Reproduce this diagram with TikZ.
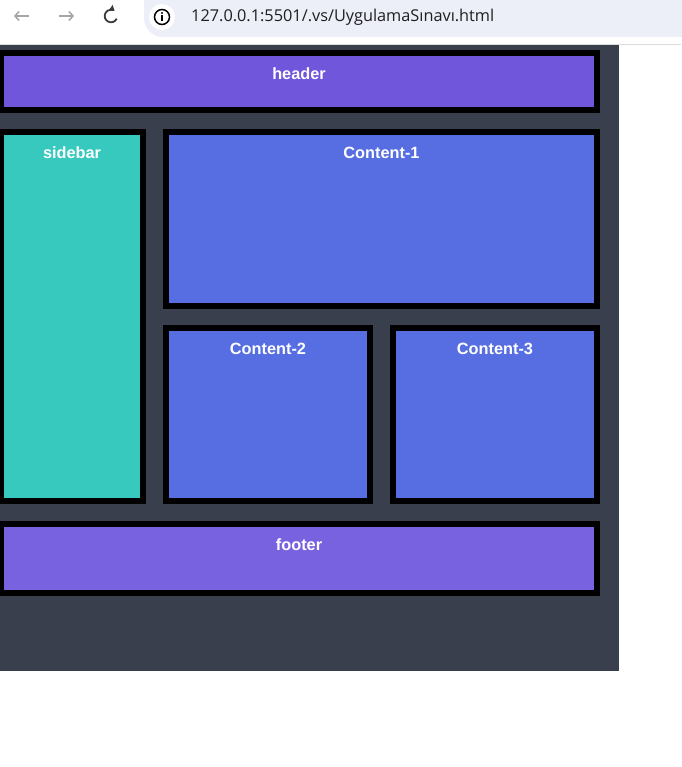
\documentclass[tikz,border=0pt]{standalone}
\usepackage{fontspec}
\setmainfont{Liberation Sans}
\newfontfamily\urlfont{Open Sans}
\usetikzlibrary{arrows.meta}
\definecolor{hdrc}{HTML}{7056DB}
\definecolor{sidec}{HTML}{37C9BE}
\definecolor{contc}{HTML}{566EE1}
\definecolor{footc}{HTML}{7962DF}
\definecolor{bgc}{HTML}{393F4C}
\definecolor{pillc}{HTML}{ECEFF7}
\definecolor{sepc}{HTML}{DADCE0}
\definecolor{navgray}{HTML}{A6A6A6}
\definecolor{navdark}{HTML}{3C3C3C}
\definecolor{urlc}{HTML}{1F1F1F}
\tikzset{
  panel/.style={draw=black, line width=6pt},
  lbl/.style={text=white, font=\bfseries\fontsize{16.3}{19}\selectfont, anchor=base, inner sep=0pt},
  navarrow/.style={line width=1.5pt, -{Straight Barb[length=4pt,width=9pt]}},
}
\begin{document}
\begin{tikzpicture}[x=1pt,y=-1pt]
\useasboundingbox (0,0) rectangle (681,767);
\fill[white] (0,0) rectangle (681,767);
% browser bar
\fill[pillc, rounded corners=19pt] (144,-20) rectangle (720,37);
\fill[white] (162,17) circle (13);
\draw[sepc, line width=1pt] (0,44.5) -- (681,44.5);
% info icon
\draw[black, line width=1.5pt] (162,17) circle (7.5);
\fill[black] (162,13) circle (1.1);
\draw[black, line width=1.6pt] (162,15.5) -- (162,21.5);
% nav icons
\coordinate (backR) at (29,16); \coordinate (backL) at (14,16);
\draw[navarrow, navgray] (backR) -- (backL);
\coordinate (fwdL) at (59,16); \coordinate (fwdR) at (74,16);
\draw[navarrow, navgray] (fwdL) -- (fwdR);
\coordinate (rel) at (111,16);
\draw[navdark, line width=1.8pt, -{Triangle[length=5pt,width=7pt]}] (rel) ++(25:6.3) arc[start angle=25, end angle=305, radius=6.3];
\node[font=\urlfont\fontsize{16.3}{19}\selectfont, text=urlc, anchor=base west, inner sep=0pt] (url) at (191,22) {127.0.0.1:5501/.vs/UygulamaSınavı.html};
% page
\fill[bgc] (0,45) rectangle (619,671);
\draw[panel, fill=hdrc] (1,53) rectangle (597,110);
\node[lbl] (header) at (299,79.5) {header};
\draw[panel, fill=sidec] (1,132) rectangle (143,501);
\node[lbl] (sidebar) at (72,158.5) {sidebar};
\draw[panel, fill=contc] (166,132) rectangle (597,306);
\node[lbl] (c1) at (381.5,158.5) {Content-1};
\draw[panel, fill=contc] (166,328) rectangle (370,501);
\node[lbl] (c2) at (268,354.5) {Content-2};
\draw[panel, fill=contc] (393,328) rectangle (597,501);
\node[lbl] (c3) at (495,354.5) {Content-3};
\draw[panel, fill=footc] (1,524) rectangle (597,593);
\node[lbl] (footer) at (299,550.5) {footer};
\end{tikzpicture}
\end{document}
